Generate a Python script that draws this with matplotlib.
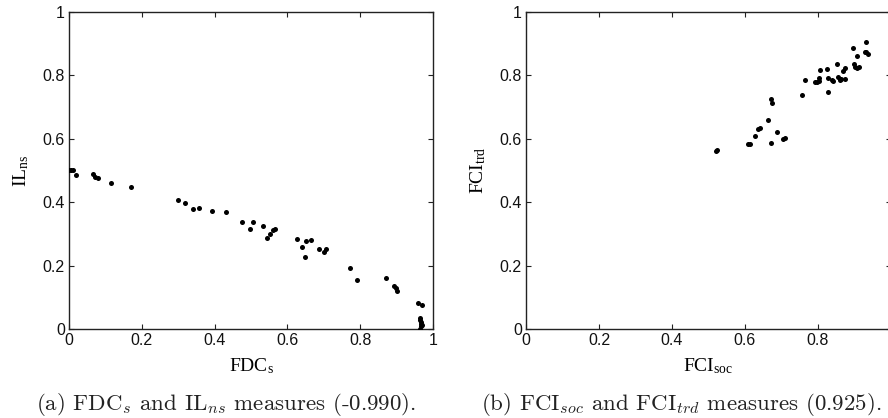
import numpy as np
import matplotlib
matplotlib.use('Agg')
import matplotlib.pyplot as plt

plt.rcParams['font.family'] = ['Liberation Sans', 'DejaVu Sans']
plt.rcParams['mathtext.fontset'] = 'custom'
plt.rcParams['mathtext.rm'] = 'Liberation Serif'
plt.rcParams['mathtext.it'] = 'Liberation Serif:italic'

# (a) FDC_s vs IL_ns
fdc_s = [0.0, 0.005, 0.012, 0.018, 0.066, 0.072, 0.080, 0.116, 0.171,
         0.299, 0.318, 0.341, 0.357, 0.393, 0.431, 0.476, 0.498, 0.505,
         0.533, 0.545, 0.553, 0.560, 0.566, 0.626, 0.640, 0.647, 0.652,
         0.666, 0.686, 0.700, 0.707, 0.771, 0.791, 0.870, 0.892, 0.897,
         0.901, 0.959, 0.970, 0.965, 0.965, 0.966, 0.966, 0.967, 0.965, 0.969]
il_ns = [0.501, 0.501, 0.500, 0.485, 0.488, 0.478, 0.477, 0.461, 0.448,
         0.406, 0.398, 0.377, 0.382, 0.373, 0.368, 0.336, 0.317, 0.337,
         0.324, 0.287, 0.301, 0.312, 0.315, 0.285, 0.259, 0.227, 0.278,
         0.282, 0.251, 0.242, 0.253, 0.192, 0.153, 0.162, 0.136, 0.128,
         0.120, 0.083, 0.076, 0.036, 0.027, 0.021, 0.015, 0.008, 0.0, 0.012]

# (b) FCI_soc vs FCI_trd
fci_soc = [0.520, 0.523, 0.609, 0.615, 0.627, 0.636, 0.642, 0.662, 0.672,
           0.673, 0.671, 0.688, 0.703, 0.710, 0.755, 0.764, 0.792, 0.798,
           0.803, 0.806, 0.804, 0.825, 0.827, 0.827, 0.838, 0.841, 0.853,
           0.856, 0.861, 0.864, 0.868, 0.873, 0.873, 0.897, 0.899, 0.902,
           0.906, 0.911, 0.906, 0.932, 0.928, 0.932, 0.938]
fci_trd = [0.561, 0.564, 0.585, 0.585, 0.608, 0.631, 0.634, 0.659, 0.724,
           0.712, 0.588, 0.623, 0.600, 0.604, 0.739, 0.787, 0.780, 0.778,
           0.781, 0.818, 0.792, 0.819, 0.748, 0.793, 0.785, 0.781, 0.835,
           0.796, 0.785, 0.789, 0.813, 0.822, 0.789, 0.886, 0.836, 0.827,
           0.822, 0.825, 0.861, 0.905, 0.875, 0.873, 0.869]

ticks = [0, 0.2, 0.4, 0.6, 0.8, 1]
tick_labels = ['0', '0.2', '0.4', '0.6', '0.8', '1']

W, H = 888, 418
fig = plt.figure(figsize=(W / 100, H / 100), dpi=100)


def make_panel(left_px, width_px, xs, ys, xlab, ylab, caption, cap_x, xlabels):
    ax = fig.add_axes([left_px / W, (H - 329) / H, width_px / W, 317 / H])
    ax.scatter(xs, ys, s=13, color='black', linewidths=0, zorder=3)
    ax.set_xlim(0, 1)
    ax.set_ylim(0, 1)
    ax.set_xticks(ticks)
    ax.set_xticklabels(xlabels)
    ax.set_yticks(ticks)
    ax.set_yticklabels(tick_labels)
    ax.tick_params(direction='in', length=3.5, width=0.8, color='#222222',
                   labelsize=11.5, top=True, right=True, pad=3,
                   labelcolor='#111111')
    for sp in ax.spines.values():
        sp.set_linewidth(1.0)
        sp.set_color('#222222')
    ax.set_xlabel(xlab, fontsize=14, family='Liberation Serif')
    ax.xaxis.set_label_coords(0.5, -0.085)
    ax.set_ylabel(ylab, fontsize=14, family='Liberation Serif')
    ax.yaxis.set_label_coords(-0.105, 0.5)
    fig.text(cap_x / W, 1 - 405 / H, caption, ha='center', va='center',
             fontsize=16.5, family='cmr10', math_fontfamily='cm',
             color='#222222')
    return ax


make_panel(69, 364, fdc_s, il_ns, r'FDC$_\mathrm{s}$', r'IL$_\mathrm{ns}$',
           r'(a) FDC$_{\mathit{s}}$ and IL$_{\mathit{ns}}$ measures (-0.990).',
           226, tick_labels)
# the right panel runs past the figure edge, so its "1" label is not shown
make_panel(526, 365, fci_soc, fci_trd, r'FCI$_\mathrm{soc}$', r'FCI$_\mathrm{trd}$',
           r'(b) FCI$_{\mathit{soc}}$ and FCI$_{\mathit{trd}}$ measures (0.925).',
           681, tick_labels[:-1] + [''])

fig.savefig('out.png', dpi=100)
